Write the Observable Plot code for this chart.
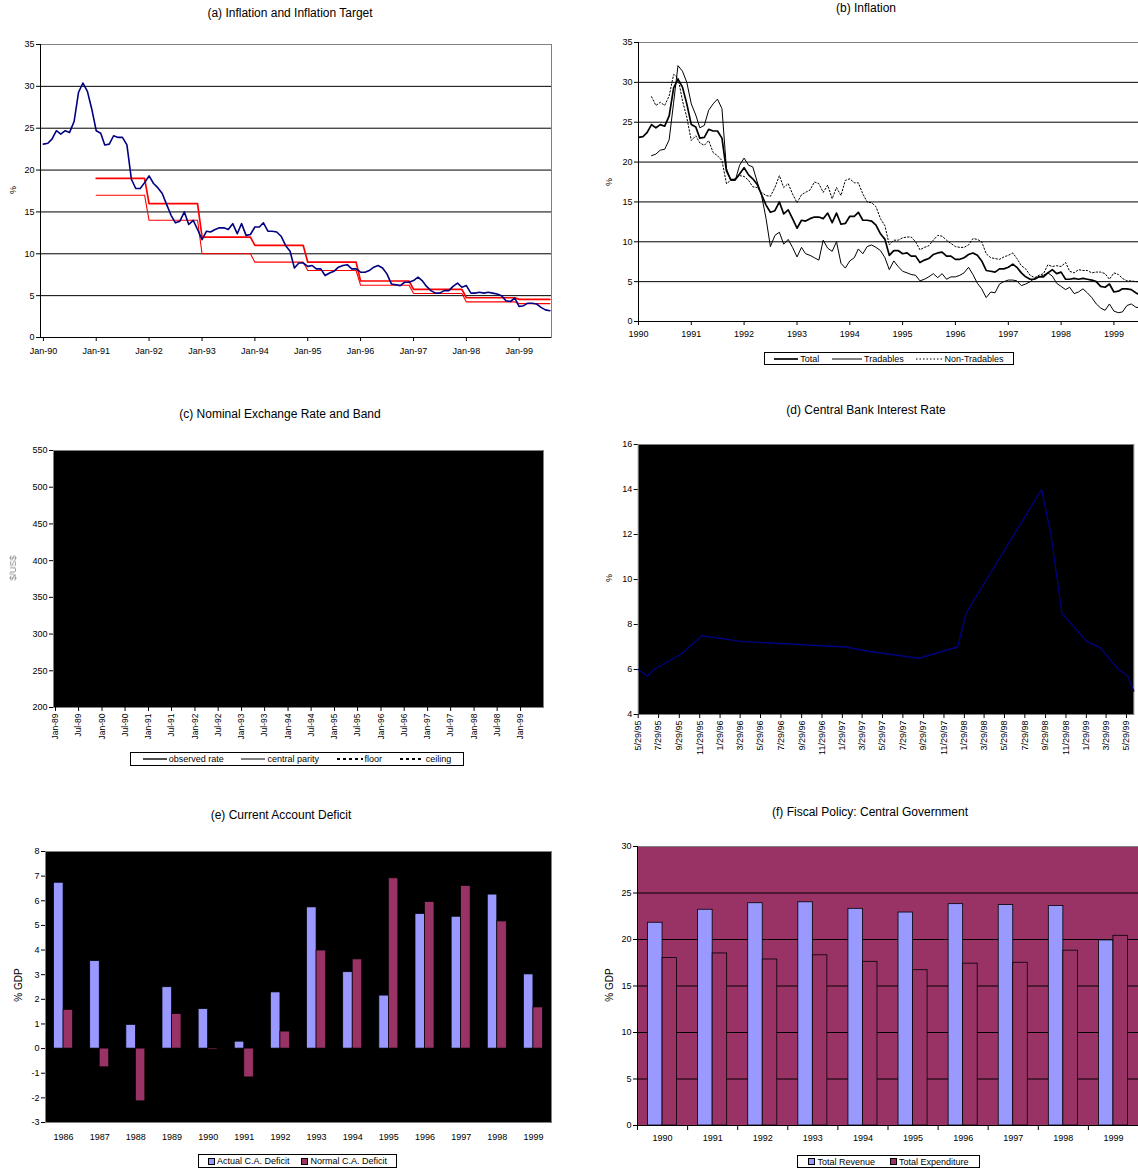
<!DOCTYPE html>
<html>
<head>
<meta charset="utf-8">
<script src="https://cdn.jsdelivr.net/npm/d3@7"></script>
<script src="https://cdn.jsdelivr.net/npm/@observablehq/plot@0.6"></script>
<style>
  html, body { margin:0; padding:0; background:#fff; width:1138px; height:1171px; overflow:hidden;
    font-family:"Liberation Sans", Arial, sans-serif; color:#000; }
  .box { position:absolute; }
  .title { position:absolute; font-size:12px; white-space:nowrap; transform:translate(-50%,-50%); }
  .ylab { position:absolute; font-size:9px; white-space:nowrap; transform:translate(-50%,-50%) rotate(-90deg); }
  .legend { position:absolute; box-sizing:border-box; border:1px solid #000; font-size:9px; display:flex;
    align-items:center; justify-content:space-around; padding:0 3px; white-space:nowrap; background:#fff; }
  .legend span.item { display:inline-flex; align-items:center; }
  .legend svg { margin-right:2px; }
</style>
</head>
<body>
<script>
// ---------------- DATA ----------------
// (a)/(b) 12-month CPI inflation, total, monthly from Jan 1990 to Aug 1999
const inflationTotal = [
  23.1,23.2,23.7,24.7,24.3,24.7,24.5,25.8,29.3,30.4,29.4,27.3,
  24.7,24.4,23.0,23.1,24.1,23.9,23.9,23.0,18.9,17.8,17.8,18.5,
  19.3,18.4,17.9,17.2,15.9,14.6,13.7,13.9,15.0,13.5,14.0,12.9,
  11.7,12.7,12.6,12.9,13.1,13.1,12.9,13.6,12.4,13.6,12.2,12.3,
  13.2,13.2,13.7,12.7,12.7,12.6,12.1,11.0,10.3,8.3,8.9,8.9,
  8.5,8.6,8.2,8.2,7.4,7.7,7.9,8.4,8.6,8.7,8.2,8.2,
  7.8,7.8,8.0,8.4,8.6,8.3,7.6,6.4,6.3,6.2,6.6,6.6,
  6.8,7.2,6.8,6.1,5.6,5.3,5.3,5.6,5.6,6.1,6.5,6.0,
  6.2,5.3,5.3,5.4,5.3,5.4,5.3,5.2,5.0,4.4,4.3,4.7,
  3.7,3.8,4.1,4.1,4.0,3.6,3.3,3.2
];
const inflationStart = [1990, 0];
// (b) tradables and non-tradables, monthly from Apr 1990
const inflationTradables = [
  20.8,21.0,21.5,21.6,22.8,27.5,32.1,31.4,30.0,
  27.3,25.9,24.3,24.6,26.5,27.3,27.9,26.7,19.2,17.7,17.7,19.6,
  20.5,19.6,19.4,17.5,15.8,12.9,9.4,10.8,11.2,9.7,10.3,9.3,
  8.1,9.3,8.5,8.3,8.0,7.7,10.2,9.2,8.8,10.0,7.3,6.7,
  7.6,8.0,9.1,8.5,9.4,9.6,9.3,8.9,8.0,6.5,7.6,6.9,
  6.3,6.1,5.9,5.8,5.1,5.3,5.6,6.0,5.5,6.0,5.3,5.6,
  5.6,5.8,6.1,6.8,5.9,4.8,4.1,3.0,3.7,3.6,4.7,5.0,
  5.2,5.2,5.1,4.5,4.7,5.0,5.4,5.6,5.8,6.1,5.7,4.8,
  4.4,4.0,4.3,3.5,3.7,4.1,3.6,3.0,2.2,1.7,1.4,2.2,
  1.3,1.1,1.2,2.0,2.2,1.8,1.7
];
const inflationNonTradables = [
  28.2,27.1,27.5,27.1,28.3,31.0,30.6,27.7,25.6,
  22.7,23.3,22.4,22.1,22.7,21.2,20.8,20.2,17.3,17.7,17.9,18.3,
  18.2,17.7,16.9,16.8,16.2,15.8,15.7,16.8,18.3,16.8,17.3,16.0,
  14.9,15.9,16.2,16.5,17.5,17.3,16.2,17.1,15.4,16.8,15.8,17.7,
  17.9,17.4,17.4,16.0,15.0,14.9,14.4,12.9,12.0,9.6,10.2,10.2,
  10.5,10.6,10.6,10.0,9.0,9.3,9.5,10.2,10.8,10.7,10.2,9.8,
  9.4,9.3,9.3,9.6,10.4,10.3,10.0,8.5,8.0,7.9,7.8,8.1,
  8.3,8.6,7.9,7.0,6.6,5.8,5.5,5.8,6.0,7.1,6.9,7.0,
  6.9,7.4,6.3,6.1,6.5,6.4,6.4,6.1,6.2,6.2,6.0,5.3,
  6.1,5.9,5.4,5.1,5.1,5.0,5.0
];
const subStart = [1990, 3];
// (a) inflation target band
const targetYears = [1991,1992,1993,1994,1995,1996,1997,1998,1999];
const targetUpper = [19,16,12,11,9,6.75,5.75,4.75,4.55];
const targetLower = [17,14,10,9,8,6.25,5.25,4.25,4.05];
// (d) central bank interest rate
const rateDates = ["5/29/95","6/25/95","7/15/95","10/6/95","12/5/95","4/1/96","2/7/97","4/20/97","6/10/97","9/13/97",
  "1/9/98","2/3/98","9/17/98","10/15/98","11/17/98","1/29/99","3/12/99","5/5/99","6/1/99","6/20/99"];
const rateValues = [6.0,5.7,6.0,6.7,7.5,7.25,7.0,6.8,6.7,6.5,7.0,8.5,14.0,12.0,8.5,7.26,6.96,6.0,5.73,5.04];
// (e) current account deficit, % GDP
const caYears = [1986,1987,1988,1989,1990,1991,1992,1993,1994,1995,1996,1997,1998,1999];
const caActual = [6.73,3.55,0.96,2.49,1.60,0.28,2.28,5.73,3.10,2.15,5.46,5.35,6.25,3.01];
const caNormal = [1.57,-0.76,-2.14,1.40,-0.05,-1.17,0.69,3.98,3.62,6.91,5.95,6.60,5.16,1.67];
// (f) central government, % GDP
const fiscalYears = [1990,1991,1992,1993,1994,1995,1996,1997,1998,1999];
const fiscalRevenue = [21.8,23.2,23.9,24.0,23.3,22.9,23.8,23.7,23.6,19.9];
const fiscalExpenditure = [18.0,18.5,17.85,18.3,17.6,16.7,17.4,17.5,18.8,20.4];
// tick labels
const aTicks = ["Jan-90","Jan-91","Jan-92","Jan-93","Jan-94","Jan-95","Jan-96","Jan-97","Jan-98","Jan-99"];
const bTicks = ["1990","1991","1992","1993","1994","1995","1996","1997","1998","1999"];
const cTicks = ["Jan-89","Jul-89","Jan-90","Jul-90","Jan-91","Jul-91","Jan-92","Jul-92","Jan-93","Jul-93","Jan-94",
  "Jul-94","Jan-95","Jul-95","Jan-96","Jul-96","Jan-97","Jul-97","Jan-98","Jul-98","Jan-99"];
const dTicks = ["5/29/95","7/29/95","9/29/95","11/29/95","1/29/96","3/29/96","5/29/96","7/29/96","9/29/96","11/29/96",
  "1/29/97","3/29/97","5/29/97","7/29/97","9/29/97","11/29/97","1/29/98","3/29/98","5/29/98","7/29/98","9/29/98",
  "11/29/98","1/29/99","3/29/99","5/29/99"];
const aYTicks = [0,5,10,15,20,25,30,35];
const cYTicks = [200,250,300,350,400,450,500,550];
const dYTicks = [4,6,8,10,12,14,16];
const eYTicks = [-3,-2,-1,0,1,2,3,4,5,6,7,8];
const fYTicks = [0,5,10,15,20,25,30];

// ---------------- HELPERS ----------------
const FONT = '"Liberation Sans", Arial, sans-serif';
const MONTHS = {Jan:0,Feb:1,Mar:2,Apr:3,May:4,Jun:5,Jul:6,Aug:7,Sep:8,Oct:9,Nov:10,Dec:11};
const utc = (y, m, d = 1) => new Date(Date.UTC(y, m, d));
const parseMonYY = s => { const [m, y] = s.split("-"); return utc(1900 + +y, MONTHS[m], 1); };
const parseMDY = s => { const [m, d, y] = s.split("/").map(Number); return utc(1900 + y, m - 1, d); };
const monthly = (start, vals) => vals.map((v, i) => ({date: utc(start[0], start[1] + i, 1), value: v}));
const labelMap = (dates, labels) => { const m = new Map(dates.map((d, i) => [+d, String(labels[i])])); return d => m.get(+d); };

function mount(node, left, top, w, h) {
  const div = document.createElement("div");
  div.className = "box";
  div.style.cssText = `left:${left}px;top:${top}px;width:${w}px;height:${h}px;`;
  div.appendChild(node);
  document.body.appendChild(div);
}
function plot(left, top, width, height, opts) {
  const svg = Plot.plot({
    width, height, ...opts,
    style: {fontFamily: FONT, fontSize: "9px", background: "transparent", color: "#000", overflow: "visible"}
  });
  mount(svg, left, top, width, height);
}
function text(cls, str, x, y, extra = "") {
  const d = document.createElement("div");
  d.className = cls; d.textContent = str;
  d.style.cssText = `left:${x}px;top:${y}px;` + extra;
  document.body.appendChild(d);
}
function legend(x, y, w, h, items) {
  const d = document.createElement("div");
  d.className = "legend";
  d.style.cssText = `left:${x}px;top:${y}px;width:${w}px;height:${h}px;`;
  for (const it of items) {
    const s = document.createElement("span");
    s.className = "item";
    let sw;
    if (it.type === "line") {
      sw = `<svg width="${it.len}" height="6"><line x1="0" x2="${it.len}" y1="3" y2="3" stroke="#000" stroke-width="${it.w}" ${it.dash ? `stroke-dasharray="${it.dash}"` : ""}/></svg>`;
    } else {
      sw = `<svg width="7" height="7"><rect x="0.5" y="0.5" width="6" height="6" fill="${it.fill}" stroke="#000" stroke-width="1"/></svg>`;
    }
    s.innerHTML = sw + `<span>${it.label}</span>`;
    d.appendChild(s);
  }
  document.body.appendChild(d);
}

// ---------------- (a) ----------------
const totalData = monthly(inflationStart, inflationTotal);
const lastDate = totalData[totalData.length - 1].date;
const targetPts = vals => targetYears.flatMap((yr, i) => [
  {date: utc(yr, 0, 1), value: vals[i]},
  {date: i === targetYears.length - 1 ? lastDate : utc(yr, 11, 1), value: vals[i]}
]);
const aTickDates = aTicks.map(parseMonYY);
const aDomain = [utc(1989, 11, 12), utc(1999, 7, 12)];
plot(0, 30, 560, 340, {
  marginLeft: 40, marginRight: 9, marginTop: 14, marginBottom: 33,
  x: {type: "utc", domain: aDomain},
  y: {domain: [0, 35]},
  marks: [
    Plot.gridY({ticks: aYTicks.slice(1, -1), stroke: "#000", strokeOpacity: 1}),
    Plot.frame({stroke: "#808080"}),
    Plot.ruleX([aDomain[0]], {stroke: "#000"}),
    Plot.ruleY([0], {stroke: "#000"}),
    Plot.axisY({ticks: aYTicks, tickFormat: d => String(d), tickSize: 4, tickPadding: 2, label: null}),
    Plot.axisX({ticks: aTickDates, tickFormat: labelMap(aTickDates, aTicks), tickSize: 4, tickPadding: 6, label: null}),
    Plot.line(targetPts(targetUpper), {x: "date", y: "value", stroke: "#ff0000", strokeWidth: 1.7}),
    Plot.line(targetPts(targetLower), {x: "date", y: "value", stroke: "#ff0000", strokeWidth: 1.1}),
    Plot.line(totalData, {x: "date", y: "value", stroke: "#000080", strokeWidth: 1.6})
  ]
});
text("title", "(a) Inflation and Inflation Target", 290, 13);
text("ylab", "%", 13, 190);

// ---------------- (b) ----------------
const bTickDates = bTicks.map(y => utc(+y, 0, 1));
const bDomain = [utc(1990, 0, 1), utc(1999, 5, 20)];
plot(590, 30, 548, 320, {
  marginLeft: 48, marginRight: 0, marginTop: 12, marginBottom: 29,
  x: {type: "utc", domain: bDomain},
  y: {domain: [0, 35]},
  marks: [
    Plot.gridY({ticks: aYTicks.slice(1, -1), stroke: "#000", strokeOpacity: 1}),
    Plot.ruleY([35], {stroke: "#808080"}),
    Plot.ruleX([bDomain[0]], {stroke: "#000"}),
    Plot.ruleY([0], {stroke: "#000"}),
    Plot.axisY({ticks: aYTicks, tickFormat: d => String(d), tickSize: 4, tickPadding: 2, label: null}),
    Plot.axisX({ticks: bTickDates, tickFormat: labelMap(bTickDates, bTicks), tickSize: 4, tickPadding: 5, label: null}),
    Plot.line(monthly(subStart, inflationNonTradables), {x: "date", y: "value", stroke: "#000", strokeWidth: 1, strokeDasharray: "1.5,2", clip: true}),
    Plot.line(monthly(subStart, inflationTradables), {x: "date", y: "value", stroke: "#000", strokeWidth: 1, clip: true}),
    Plot.line(totalData, {x: "date", y: "value", stroke: "#000", strokeWidth: 1.7, clip: true})
  ]
});
text("title", "(b) Inflation", 866, 8);
text("ylab", "%", 609, 182);
legend(764, 352, 250, 13, [
  {type: "line", len: 24, w: 1.7, label: "Total"},
  {type: "line", len: 30, w: 1, label: "Tradables"},
  {type: "line", len: 26, w: 1, dash: "1.5,2", label: "Non-Tradables"}
]);

// ---------------- (c) ----------------
const cTickDates = cTicks.map(parseMonYY);
plot(0, 430, 560, 340, {
  marginLeft: 53, marginRight: 17, marginTop: 20, marginBottom: 63,
  x: {type: "utc", domain: [utc(1988, 11, 16), utc(1999, 5, 30)]},
  y: {domain: [200, 550]},
  marks: [
    Plot.frame({fill: "#000", stroke: "#808080"}),
    Plot.axisY({ticks: cYTicks, tickFormat: d => String(d), tickSize: 4, tickPadding: 2, label: null}),
    Plot.axisX({ticks: cTickDates, tickFormat: labelMap(cTickDates, cTicks), tickSize: 4, tickPadding: 2, tickRotate: -90, label: null, fontSize: 8.5})
  ]
});
text("title", "(c) Nominal Exchange Rate and Band", 280, 414);
text("ylab", "$/US$", 13, 568, "color:#888;filter:blur(0.7px);");
legend(130, 752, 334, 14, [
  {type: "line", len: 24, w: 1.4, label: "observed rate"},
  {type: "line", len: 24, w: 1, label: "central parity"},
  {type: "line", len: 26, w: 2, dash: "3,3", label: "floor"},
  {type: "line", len: 24, w: 2, dash: "3,3", label: "ceiling"}
]);

// ---------------- (d) ----------------
const dTickDates = dTicks.map(parseMDY);
const rateData = rateDates.map((s, i) => ({date: parseMDY(s), value: rateValues[i]}));
plot(590, 430, 548, 340, {
  marginLeft: 47.7, marginRight: 4.7, marginTop: 14, marginBottom: 56,
  x: {type: "utc", domain: [parseMDY(rateDates[0]), parseMDY(rateDates[rateDates.length - 1])]},
  y: {domain: [4, 16]},
  marks: [
    Plot.frame({fill: "#000", stroke: "#808080"}),
    Plot.axisY({ticks: dYTicks, tickFormat: d => String(d), tickSize: 4, tickPadding: 2, label: null}),
    Plot.axisX({ticks: dTickDates, tickFormat: labelMap(dTickDates, dTicks), tickSize: 4, tickPadding: 2, tickRotate: -90, label: null}),
    Plot.line(rateData, {x: "date", y: "value", stroke: "#000080", strokeWidth: 1.3})
  ]
});
text("title", "(d) Central Bank Interest Rate", 866, 410);
text("ylab", "%", 609, 578);

// ---------------- (e) ----------------
const eW = 560, eML = 45, eMR = 9, ePadIn = 0.475;
const eBand = (eW - eML - eMR) / caYears.length * (1 - ePadIn);
const caData = caYears.map((y, i) => ({year: y, actual: caActual[i], normal: caNormal[i]}));
plot(0, 835, eW, 315, {
  marginLeft: eML, marginRight: eMR, marginTop: 16, marginBottom: 28,
  x: {type: "band", domain: caYears, paddingInner: ePadIn, paddingOuter: ePadIn / 2, round: false},
  y: {domain: [-3, 8]},
  marks: [
    Plot.frame({fill: "#000", stroke: "#808080"}),
    Plot.barY(caData, {x: "year", y: "actual", fill: "#9999ff", stroke: "#000", strokeWidth: 0.7, insetRight: eBand / 2}),
    Plot.barY(caData, {x: "year", y: "normal", fill: "#993366", stroke: "#000", strokeWidth: 0.7, insetLeft: eBand / 2}),
    Plot.axisY({ticks: eYTicks, tickFormat: d => String(d), tickSize: 4, tickPadding: 2, label: null}),
    Plot.axisX({tickFormat: d => String(d), tickSize: 0, tickPadding: 11, label: null})
  ]
});
text("title", "(e) Current Account Deficit", 281, 815);
text("ylab", "% GDP", 18, 985, "font-size:10px;");
legend(198, 1154, 199, 14, [
  {type: "box", fill: "#9999ff", label: "Actual C.A. Deficit"},
  {type: "box", fill: "#993366", label: "Normal C.A. Deficit"}
]);

// ---------------- (f) ----------------
const fW = 548, fML = 47, fMR = 0, fPadIn = 0.42;
const fStep = (fW - fML - fMR) / fiscalYears.length;
const fBand = fStep * (1 - fPadIn);
const fiscalData = fiscalYears.map((y, i) => ({year: y, revenue: fiscalRevenue[i], expenditure: fiscalExpenditure[i]}));
plot(590, 830, fW, 320, {
  marginLeft: fML, marginRight: fMR, marginTop: 16, marginBottom: 25,
  x: {type: "band", domain: fiscalYears, paddingInner: fPadIn, paddingOuter: fPadIn / 2, round: false},
  y: {domain: [0, 30]},
  marks: [
    Plot.frame({fill: "#993366", stroke: "#808080"}),
    Plot.gridY({ticks: fYTicks.slice(1, -1), stroke: "#000", strokeOpacity: 1}),
    Plot.barY(fiscalData, {x: "year", y: "revenue", fill: "#9999ff", stroke: "#000", strokeWidth: 0.8, insetRight: fBand / 2}),
    Plot.barY(fiscalData, {x: "year", y: "expenditure", fill: "#993366", stroke: "#000", strokeWidth: 0.8, insetLeft: fBand / 2}),
    Plot.ruleY([0], {stroke: "#000"}),
    Plot.frame({anchor: "left", stroke: "#000"}),
    Plot.axisY({ticks: fYTicks, tickFormat: d => String(d), tickSize: 4, tickPadding: 2, label: null}),
    Plot.axisX({tickSize: 5, text: null, dx: -fStep / 2, label: null}),
    Plot.axisX({tickFormat: d => String(d), tickSize: 0, tickPadding: 9, label: null})
  ]
});
text("title", "(f) Fiscal Policy: Central Government", 870, 812);
text("ylab", "% GDP", 609, 985, "font-size:10px;");
legend(797, 1155, 183, 13, [
  {type: "box", fill: "#9999ff", label: "Total Revenue"},
  {type: "box", fill: "#993366", label: "Total Expenditure"}
]);
</script>
</body>
</html>
